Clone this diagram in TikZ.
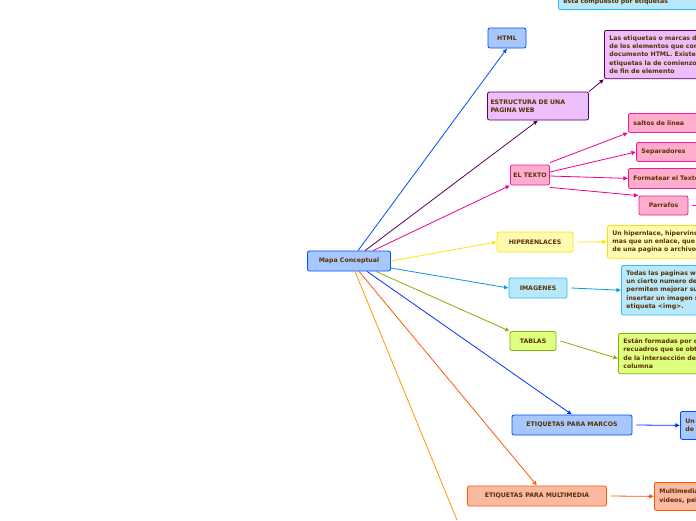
\documentclass[tikz,border=0pt]{standalone}
\usepackage{fontspec}
\setsansfont{DejaVu Sans}
\usetikzlibrary{positioning, arrows.meta}
\definecolor{txt}{HTML}{5A3000}
\begin{document}
\begin{tikzpicture}[x=1pt, y=-1pt,
                every node/.style={font=\sffamily\bfseries\fontsize{6.2}{8.4}\selectfont, text=txt, rounded corners=2pt, thick, inner sep=3pt},
                >={Latex[width=1.6mm,length=1.6mm]},
                blue/.style={draw=blue!70!cyan, fill={rgb,255:red,166;green,200;blue,255}},
                purple/.style={draw=violet!70!black, fill={rgb,255:red,236;green,190;blue,250}},
                pink/.style={draw=magenta!90, fill={rgb,255:red,255;green,172;blue,205}},
                yellow/.style={draw=yellow!85!orange, fill=yellow!30},
                cyan/.style={draw=cyan!80, fill=cyan!28},
                green/.style={draw=lime!70!black, fill=lime!50},
                orange/.style={draw=orange!70!red, fill={rgb,255:red,250;green,185;blue,160}},
                note/.style={anchor=north west, align=left, text width=240pt, inner sep=5pt},
                line/.style={draw, ->, thick},
                ]
                \useasboundingbox (0,0) rectangle (696,520);
                \clip (0,0) rectangle (696,520);

                % Main topic and its branches
                \node [blue, minimum width=83pt, minimum height=20pt] (mapa) at (349,261) {Mapa Conceptual};
                \node [blue, minimum width=38pt, minimum height=20pt] (html) at (507,38) {HTML};
                \node [purple, align=left, text width=95pt, minimum height=28pt] (estructura) at (538,106) {ESTRUCTURA DE UNA\\PAGINA WEB};
                \node [pink, minimum height=20pt] (texto) at (530,175) {EL TEXTO};
                \node [yellow, minimum width=76pt, minimum height=20pt] (hiper) at (535,242) {HIPERENLACES};
                \node [cyan, minimum width=58pt, minimum height=20pt] (imagenes) at (538,288) {IMAGENES};
                \node [green, minimum width=46pt, minimum height=19pt] (tablas) at (533,341) {TABLAS};
                \node [blue, minimum width=120pt, minimum height=20pt] (marcos) at (572,425) {ETIQUETAS PARA MARCOS};
                \node [orange, minimum width=139pt, minimum height=20pt] (multi) at (537,496) {ETIQUETAS PARA MULTIMEDIA};
                \coordinate (abajo) at (457,520);

                % Descriptions
                \node [cyan, note, anchor=south west] (compuesto) at (558,10) {esta compuesto por etiquetas};
                \node [purple, note] (marcas) at (604,30) {Las etiquetas o marcas delimitan cada uno\\de los elementos que componen un\\documento HTML. Existen dos tipos de\\etiquetas la de comienzo de elemento y la\\de fin de elemento};
                \node [pink, note, minimum height=19pt] (saltos) at (628,113) {saltos de linea};
                \node [pink, note, minimum height=19pt] (separadores) at (636,142) {Separadores};
                \node [pink, note, minimum height=20pt] (formatear) at (628,168) {Formatear el Texto};
                \node [pink, minimum width=49pt, minimum height=19pt] (parrafos) at (663.5,205.5) {Parrafos};
                \coordinate (parrafosFin) at (700,205);
                \node [yellow, note] (enlace) at (607,225) {Un hipernlace, hipervinculo o vinculo no es\\mas que un enlace, que al ser pulsado lleva\\de una pagina o archivo a otra pagina};
                \node [cyan, note] (todas) at (621,265) {Todas las paginas web contienen\\un cierto numero de imagenes que\\permiten mejorar su aspecto. Para\\insertar un imagen se utiliza la\\etiqueta <img>.};
                \node [green, note] (formadas) at (618,333) {Están formadas por celdas, que son los\\recuadros que se obtienen como resultado\\de la intersección de una fila y una\\columna};
                \node [blue, note, minimum height=28pt] (unde) at (680,411) {Un\\de};
                \node [orange, note, minimum height=28pt] (multimedia) at (654,482) {Multimedia: audio,\\vídeos, películas};

                % Connectors
                \draw[line, blue!70!cyan] ([xshift=9pt]mapa.north) -- (html.south);
                \draw[line, violet!70!black] ([xshift=16pt]mapa.north) -- (estructura.south);
                \draw[line, magenta] ([xshift=24pt]mapa.north) -- (texto.south west);
                \draw[line, yellow!85!orange] (mapa.east) -- (hiper.west);
                \draw[line, cyan!80!blue] ([yshift=-7pt]mapa.east) -- (imagenes.west);
                \draw[line, lime!70!black] ([xshift=-15pt]mapa.south east) -- (tablas.north west);
                \draw[line, blue!80!cyan] ([xshift=18pt]mapa.south) -- (marcos.north);
                \draw[line, orange!70!red] ([xshift=10pt]mapa.south) -- (multi.north);
                \draw[thick, orange!80!yellow] ([xshift=6pt]mapa.south) -- (abajo);

                \draw[line, violet!70!black] (estructura.north east) -- (marcas.south west);
                \draw[line, magenta] ([yshift=2pt]texto.north east) -- (saltos.south west);
                \draw[line, magenta] (texto.east) ++(0,-3) -- (separadores.west);
                \draw[line, magenta] (texto.east) ++(0,1) -- (formatear.west);
                \draw[line, magenta] ([yshift=-2pt]texto.south east) -- (parrafos.north west);
                \draw[thick, magenta] (parrafos.east) ++(4,0) -- (parrafosFin);
                \draw[line, yellow!85!orange] ([xshift=4pt]hiper.east) -- (enlace.west);
                \draw[line, cyan!80!blue] ([xshift=4pt]imagenes.east) -- (todas.west);
                \draw[line, lime!70!black] ([xshift=4pt]tablas.east) -- ([yshift=-5pt]formadas.west);
                \draw[line, blue!80!cyan] ([xshift=4pt]marcos.east) -- (unde.west);
                \draw[line, orange!70!red] ([xshift=4pt]multi.east) -- (multimedia.west);
\end{tikzpicture}
\end{document}
